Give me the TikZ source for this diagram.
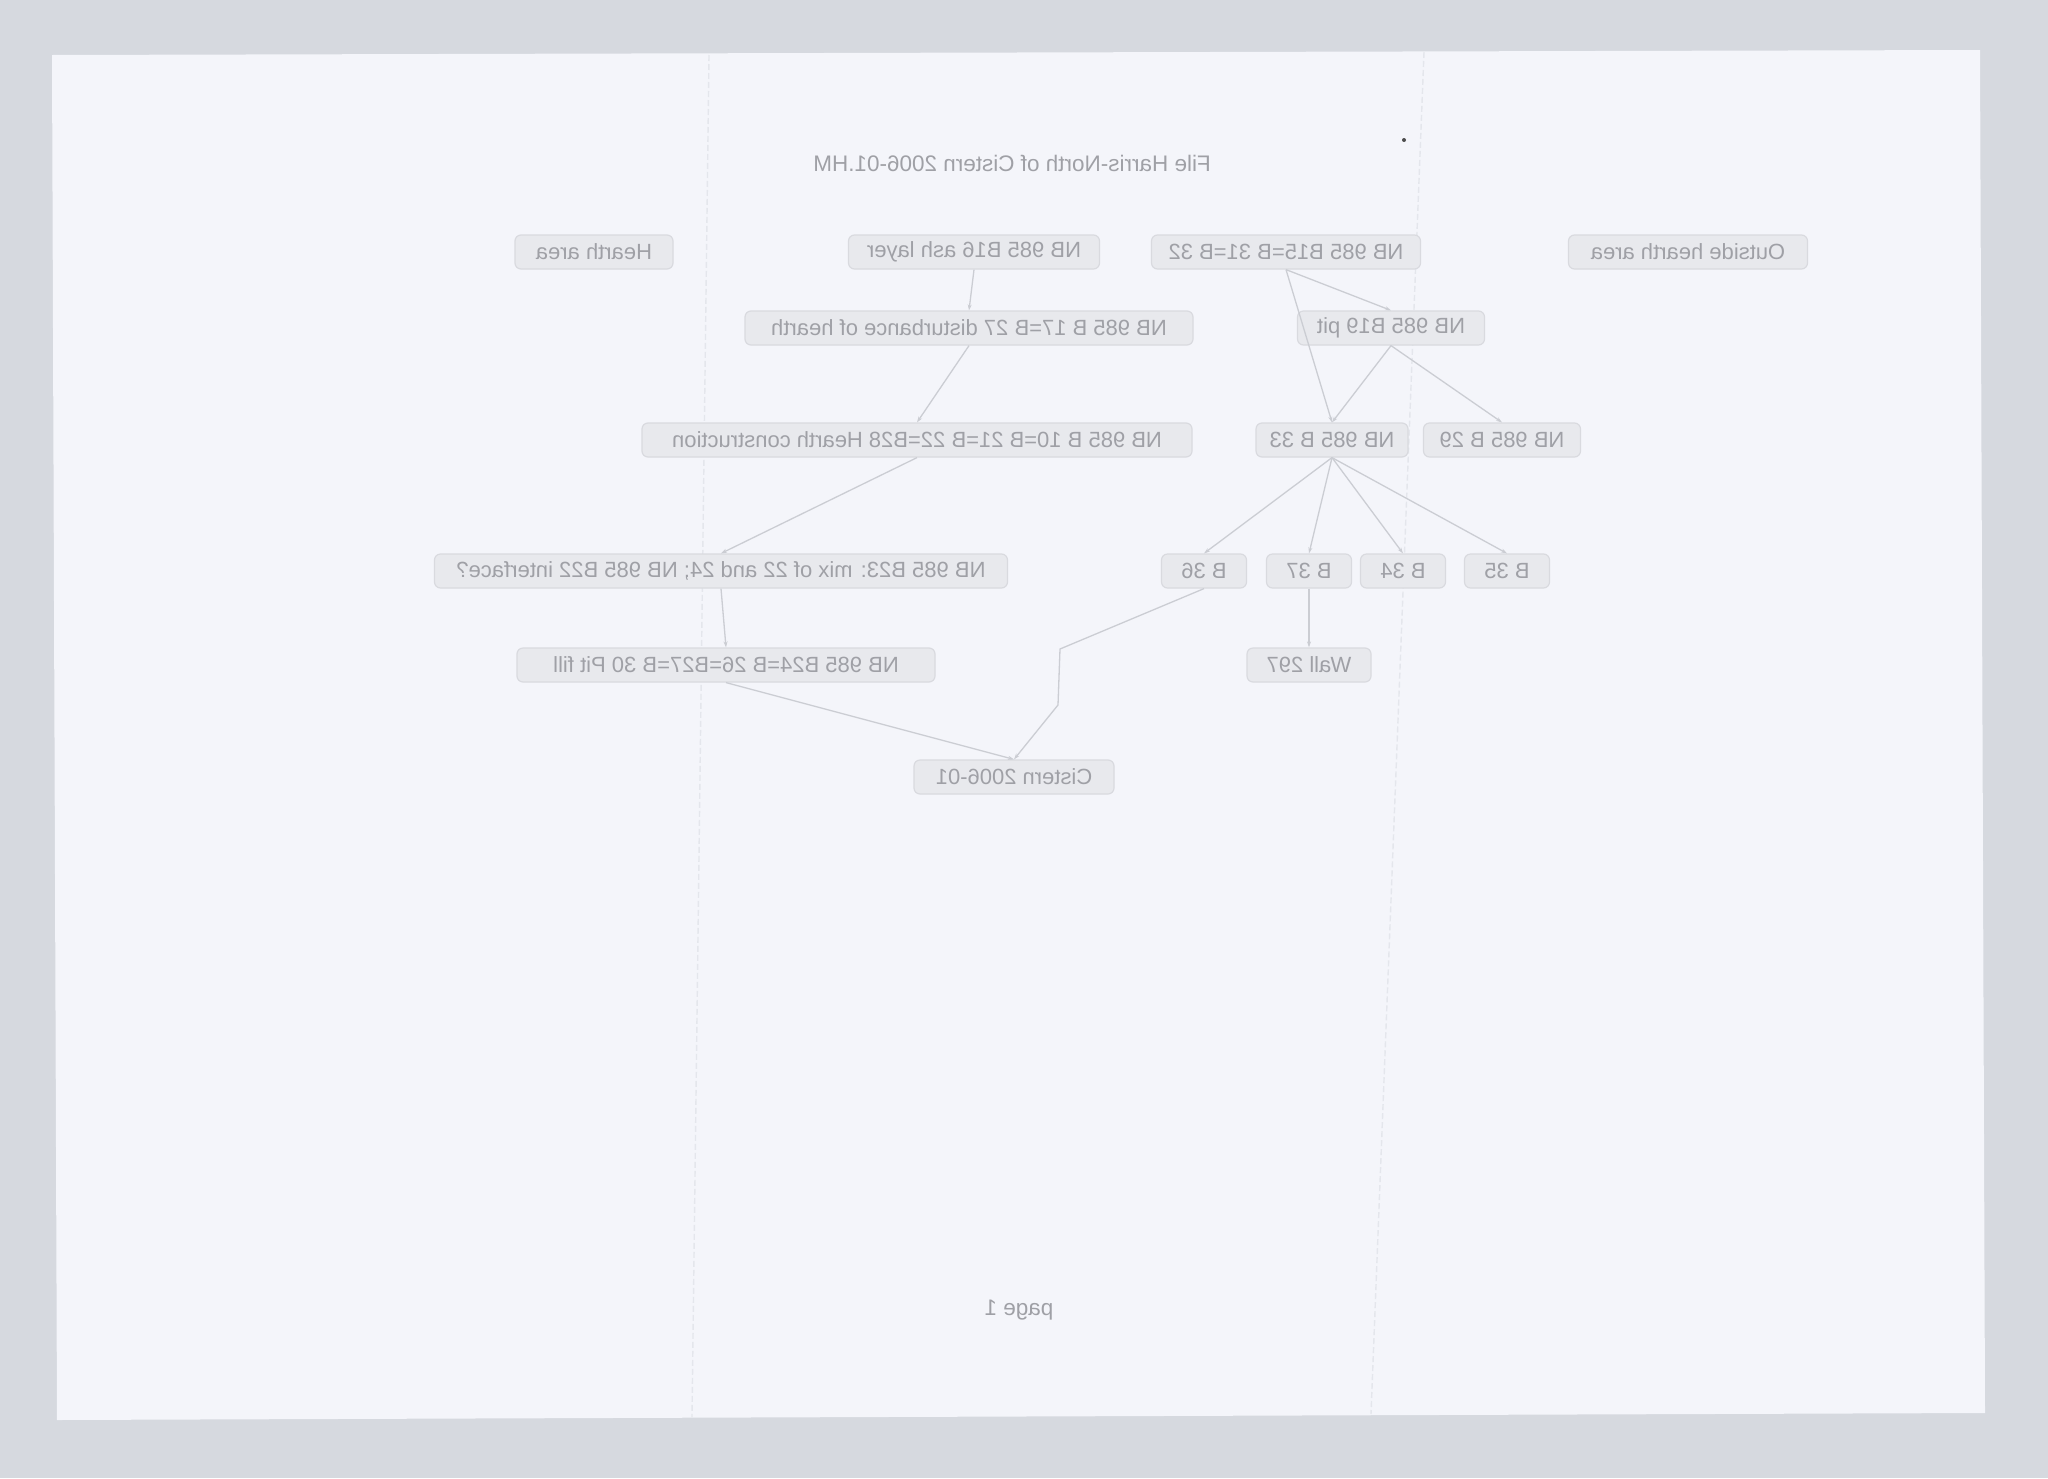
\documentclass[tikz,border=0pt]{standalone}
\usepackage{graphicx}
\usepackage{fontspec}
\setmainfont{Liberation Sans}
\usetikzlibrary{arrows.meta}
\definecolor{scanbg}{HTML}{D6D9DF}
\definecolor{paper}{HTML}{F4F5FA}
\definecolor{foldc}{HTML}{E4E6EC}
\definecolor{boxfill}{HTML}{E8E9ED}
\definecolor{boxline}{HTML}{D9DADF}
\definecolor{txtc}{HTML}{9FA0A6}
\definecolor{edgec}{HTML}{CBCDD3}
\tikzset{
  gnode/.style={draw=boxline, fill=boxfill, rounded corners=6pt, line width=1.2pt,
    minimum height=34pt, inner xsep=10pt, inner ysep=0pt, text=txtc,
    font=\fontsize{22}{26}\selectfont},
  plain/.style={text=txtc, font=\fontsize{22.5}{27}\selectfont, inner sep=0pt},
  edge/.style={draw=edgec, line width=1.3pt, -{Stealth[length=6pt,width=4pt]}},
  fold/.style={draw=foldc, line width=1.4pt, dash pattern=on 6pt off 3pt}
}
\newcommand{\mr}[1]{\reflectbox{#1}}
\begin{document}
\begin{tikzpicture}[x=1pt,y=-1pt]
\useasboundingbox (0,0) rectangle (2048,1478);
\fill[scanbg] (0,0) rectangle (2048,1478);
\fill[paper] (52,55) -- (1980,50) -- (1985,1413) -- (57,1420) -- cycle;
\draw[fold] (709,55) -- (692,1417);
\draw[fold] (1424,52) -- (1371,1414);
\fill[black!70] (1404,140) circle (2pt);

\node[plain] (title) at (1012,163) {\mr{File Harris-North of Cistern 2006-01.HM}};
\node[plain] (page) at (1019,1310) {\mr{page 1}};

\node[gnode, minimum width=239pt] (outside) at (1688,252) {\mr{Outside hearth area}};
\node[gnode, minimum width=269pt] (b15) at (1286,252) {\mr{NB 985 B15=B 31=B 32}};
\node[gnode, minimum width=251pt] (b16) at (974,252) {\mr{NB 985 B16 ash layer}};
\node[gnode, minimum width=158pt] (hearth) at (594,252) {\mr{Hearth area}};

\node[gnode, minimum width=448pt] (b17) at (969,328) {\mr{NB 985 B 17=B 27 disturbance of hearth}};
\node[gnode, minimum width=187pt] (b19) at (1391,328) {\mr{NB 985 B19 pit}};

\node[gnode, minimum width=550pt] (b10) at (917,440) {\mr{NB 985 B 10=B 21=B 22=B28 Hearth construction}};
\node[gnode, minimum width=152pt] (b33) at (1332,440) {\mr{NB 985 B 33}};
\node[gnode, minimum width=157pt] (b29) at (1502,440) {\mr{NB 985 B 29}};

\node[gnode, minimum width=573pt] (b23) at (721,571) {\mr{NB 985 B23: mix of 22 and 24; NB 985 B22 interface?}};
\node[gnode, minimum width=85pt] (b36) at (1204,571) {\mr{B 36}};
\node[gnode, minimum width=85pt] (b37) at (1309,571) {\mr{B 37}};
\node[gnode, minimum width=85pt] (b34) at (1403,571) {\mr{B 34}};
\node[gnode, minimum width=85pt] (b35) at (1507,571) {\mr{B 35}};

\node[gnode, minimum width=418pt] (b24) at (726,665) {\mr{NB 985 B24=B 26=B27=B 30 Pit fill}};
\node[gnode, minimum width=124pt] (wall) at (1309,665) {\mr{Wall 297}};

\node[gnode, minimum width=200pt] (cistern) at (1014,777) {\mr{Cistern 2006-01}};

\coordinate (k1) at (1060,649);
\coordinate (k2) at (1058,705);

\draw[edge] (b15.south) -- (b19.north);
\draw[edge] (b15.south) -- (b33.north);
\draw[edge] (b19.south) -- (b33.north);
\draw[edge] (b19.south) -- (b29.north);
\draw[edge] (b16.south) -- (b17.north);
\draw[edge] (b17.south) -- (b10.north);
\draw[edge] (b10.south) -- (b23.north);
\draw[edge] (b33.south) -- (b36.north);
\draw[edge] (b33.south) -- (b37.north);
\draw[edge] (b33.south) -- (b34.north);
\draw[edge] (b33.south) -- (b35.north);
\draw[edge] (b37.south) -- (wall.north);
\draw[edge] (b23.south) -- (b24.north);
\draw[edge] (b24.south) -- (cistern.north);
\draw[edge] (b36.south) -- (k1) -- (k2) -- (cistern.north);
\end{tikzpicture}
\end{document}
